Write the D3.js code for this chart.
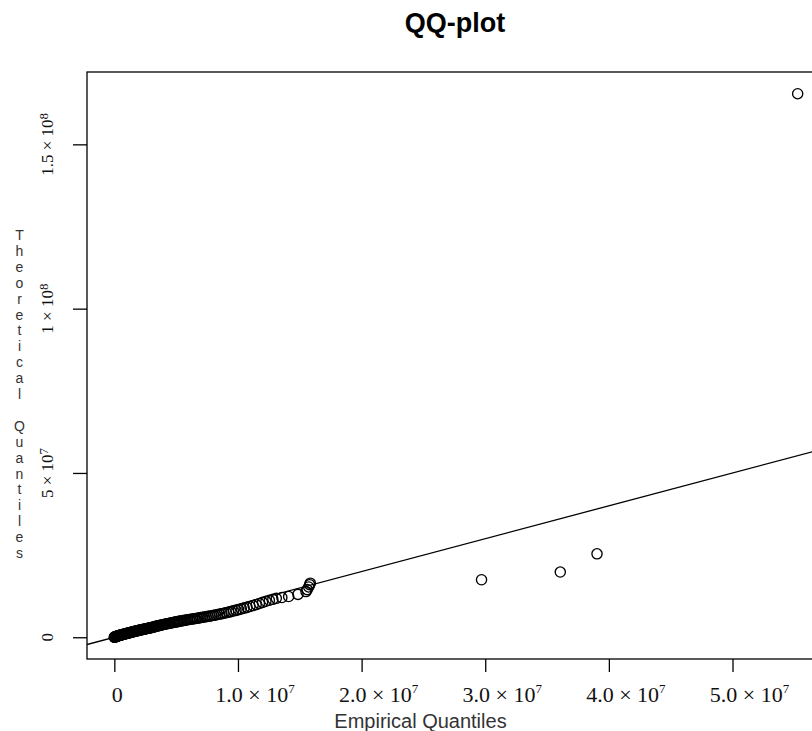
<!DOCTYPE html>
<html>
<head>
<meta charset="utf-8">
<script src="https://cdn.jsdelivr.net/npm/d3@7"></script>
<style>
  html, body { margin: 0; padding: 0; background: #fff; }
  svg { display: block; }
</style>
</head>
<body>
<svg id="chart" width="812" height="731"></svg>
<script>
// ---- data (values in units of 1e6) ----
const empirical = [
  0.00,0.01,0.02,0.04,0.05,0.07,0.09,0.11,0.13,0.15,0.17,0.20,0.22,0.25,0.28,0.31,0.34,0.37,0.40,0.43,
  0.46,0.50,0.53,0.57,0.61,0.65,0.69,0.73,0.77,0.81,0.85,0.90,0.94,0.98,
  1.03,1.08,1.13,1.18,1.23,1.28,1.33,1.38,1.44,1.50,1.55,1.61,1.67,1.73,1.79,1.85,1.91,1.97,2.03,2.09,
  2.16,2.23,2.30,2.37,2.44,2.51,2.58,2.65,2.72,2.80,2.88,2.96,
  3.04,3.12,3.20,3.28,3.36,3.44,3.53,3.62,3.71,3.80,3.89,3.98,4.07,4.17,4.27,4.37,4.47,4.57,4.67,4.78,
  4.89,5.00,5.11,5.22,5.33,5.45,5.57,5.69,5.81,5.93,
  6.06,6.19,6.32,6.45,6.58,6.72,6.86,7.00,7.14,7.28,7.43,7.58,7.73,7.88,8.04,8.20,8.36,8.53,8.70,8.87,
  9.05,9.24,9.43,9.63,9.84,10.05,10.27,10.50,10.73,10.97,11.22,11.47,11.73,11.99,12.26,12.54,12.82,13.10,
  13.55,14.10,14.85,15.50,15.60,15.72,15.80,15.85,
  29.70,36.07,39.04,55.27
];
const theoretical = [
  0.00,0.02,0.04,0.07,0.09,0.12,0.15,0.18,0.21,0.24,0.27,0.31,0.34,0.37,0.41,0.45,0.48,0.52,0.56,0.59,
  0.63,0.67,0.70,0.74,0.78,0.82,0.86,0.90,0.94,0.98,1.02,1.06,1.10,1.14,
  1.19,1.24,1.29,1.34,1.39,1.44,1.49,1.54,1.60,1.66,1.71,1.77,1.82,1.88,1.93,1.99,2.04,2.10,2.15,2.20,
  2.26,2.32,2.38,2.44,2.49,2.55,2.61,2.66,2.72,2.78,2.85,2.92,
  3.00,3.08,3.16,3.24,3.32,3.40,3.48,3.56,3.64,3.72,3.80,3.88,3.96,4.04,4.12,4.20,4.28,4.36,4.44,4.52,
  4.60,4.68,4.76,4.84,4.92,5.00,5.08,5.16,5.24,5.32,
  5.40,5.48,5.56,5.64,5.72,5.81,5.90,5.99,6.08,6.17,6.27,6.37,6.47,6.57,6.68,6.80,6.92,7.05,7.18,7.32,
  7.47,7.63,7.80,7.98,8.18,8.39,8.62,8.86,9.10,9.36,9.64,9.94,10.28,10.62,10.95,11.25,11.55,11.85,
  12.10,12.40,13.05,13.90,14.50,15.30,16.00,16.45,
  17.50,19.85,25.40,165.40
];
const xTickValues = [0, 10, 20, 30, 40, 50];
const xTickMantissa = ["0", "1.0", "2.0", "3.0", "4.0", "5.0"];
const xTickExponent = ["", "7", "7", "7", "7", "7"];
const yTickValues = [0, 50, 100, 150];
const yTickMantissa = ["0", "5", "1", "1.5"];
const yTickExponent = ["", "7", "8", "8"];
const titleText = "QQ-plot";
const xTitle = "Empirical Quantiles";
const yTitle = "Theoretical Quantiles";
const refSlope = 1, refIntercept = 0;

// ---- layout ----
const svg = d3.select("#chart");
const box = { left: 87, right: 825, top: 72, bottom: 659 };

const xMin = d3.min(empirical), xMax = d3.max(empirical);
const yMin = d3.min(theoretical), yMax = d3.max(theoretical);
const xPad = 0.04 * (xMax - xMin), yPad = 0.04 * (yMax - yMin);

const x = d3.scaleLinear().domain([xMin - xPad, xMax + xPad]).range([box.left, box.right]);
const y = d3.scaleLinear().domain([yMin - yPad, yMax + yPad]).range([box.bottom, box.top]);

svg.append("rect").attr("width", 812).attr("height", 731).attr("fill", "#fff");

svg.append("defs").append("clipPath").attr("id", "plotclip")
  .append("rect").attr("x", box.left).attr("y", box.top)
  .attr("width", box.right - box.left).attr("height", box.bottom - box.top);

// reference line
const xd = x.domain();
svg.append("line")
  .attr("clip-path", "url(#plotclip)")
  .attr("x1", x(xd[0])).attr("y1", y(refIntercept + refSlope * xd[0]))
  .attr("x2", x(xd[1])).attr("y2", y(refIntercept + refSlope * xd[1]))
  .attr("stroke", "#000").attr("stroke-width", 1.3);

// points
const pts = empirical.map((e, i) => ({ e, t: theoretical[i] }));
svg.append("g").attr("clip-path", "url(#plotclip)")
  .selectAll("circle").data(pts).join("circle")
  .attr("cx", d => x(d.e)).attr("cy", d => y(d.t))
  .attr("r", 5.1).attr("fill", "none").attr("stroke", "#000").attr("stroke-width", 1.35);

// box
svg.append("rect")
  .attr("x", box.left).attr("y", box.top)
  .attr("width", box.right - box.left).attr("height", box.bottom - box.top)
  .attr("fill", "none").attr("stroke", "#000").attr("stroke-width", 1.3);

// x axis (ticks only, box provides the line)
const xAxis = d3.axisBottom(x).tickValues(xTickValues).tickSize(13).tickFormat("");
const gx = svg.append("g").attr("transform", `translate(0,${box.bottom})`).call(xAxis);
gx.select(".domain").remove();
gx.selectAll(".tick line").attr("stroke", "#000").attr("stroke-width", 1.3);

const xl = svg.append("g");
xTickValues.forEach((v, i) => {
  const off = xTickExponent[i] ? 17 : 3;
  const t = xl.append("text")
    .attr("x", x(v) + off).attr("y", 701.5)
    .attr("text-anchor", "middle")
    .attr("font-family", "'Liberation Serif', 'Times New Roman', serif")
    .attr("font-size", 22).attr("fill", "#111");
  if (xTickExponent[i]) {
    t.append("tspan").text(xTickMantissa[i] + " × 10");
    t.append("tspan").attr("font-size", 13).attr("dy", -8.5).text(xTickExponent[i]);
  } else {
    t.text(xTickMantissa[i]);
  }
});

// y axis
const yAxis = d3.axisLeft(y).tickValues(yTickValues).tickSize(14).tickFormat("");
const gy = svg.append("g").attr("transform", `translate(${box.left},0)`).call(yAxis);
gy.select(".domain").remove();
gy.selectAll(".tick line").attr("stroke", "#000").attr("stroke-width", 1.3);

const yl = svg.append("g");
yTickValues.forEach((v, i) => {
  const t = yl.append("text")
    .attr("transform", `translate(52.8,${y(v)}) rotate(-90)`)
    .attr("text-anchor", "middle")
    .attr("font-family", "'Liberation Serif', 'Times New Roman', serif")
    .attr("font-size", 17).attr("fill", "#111");
  if (yTickExponent[i]) {
    t.append("tspan").text(yTickMantissa[i] + " × 10");
    t.append("tspan").attr("font-size", 13).attr("dy", -5).text(yTickExponent[i]);
  } else {
    t.text(yTickMantissa[i]);
  }
});

// title
svg.append("text").attr("x", 455).attr("y", 32)
  .attr("text-anchor", "middle")
  .attr("font-family", "'Liberation Sans', Arial, sans-serif")
  .attr("font-weight", "bold").attr("font-size", 27).attr("fill", "#000")
  .text(titleText);

// x title
svg.append("text").attr("x", 420.5).attr("y", 727.5)
  .attr("text-anchor", "middle")
  .attr("font-family", "'Liberation Sans', Arial, sans-serif")
  .attr("font-size", 20).attr("fill", "#333")
  .text(xTitle);

// y title: letters stacked vertically
const yt = svg.append("text")
  .attr("font-family", "'Liberation Sans', Arial, sans-serif")
  .attr("font-size", 14).attr("fill", "#333")
  .attr("text-anchor", "middle");
Array.from(yTitle).forEach((ch, i) => {
  yt.append("tspan").attr("x", 19.5).attr("y", 240 + i * 15.9).text(ch === " " ? "\u00a0" : ch);
});
</script>
</body>
</html>
